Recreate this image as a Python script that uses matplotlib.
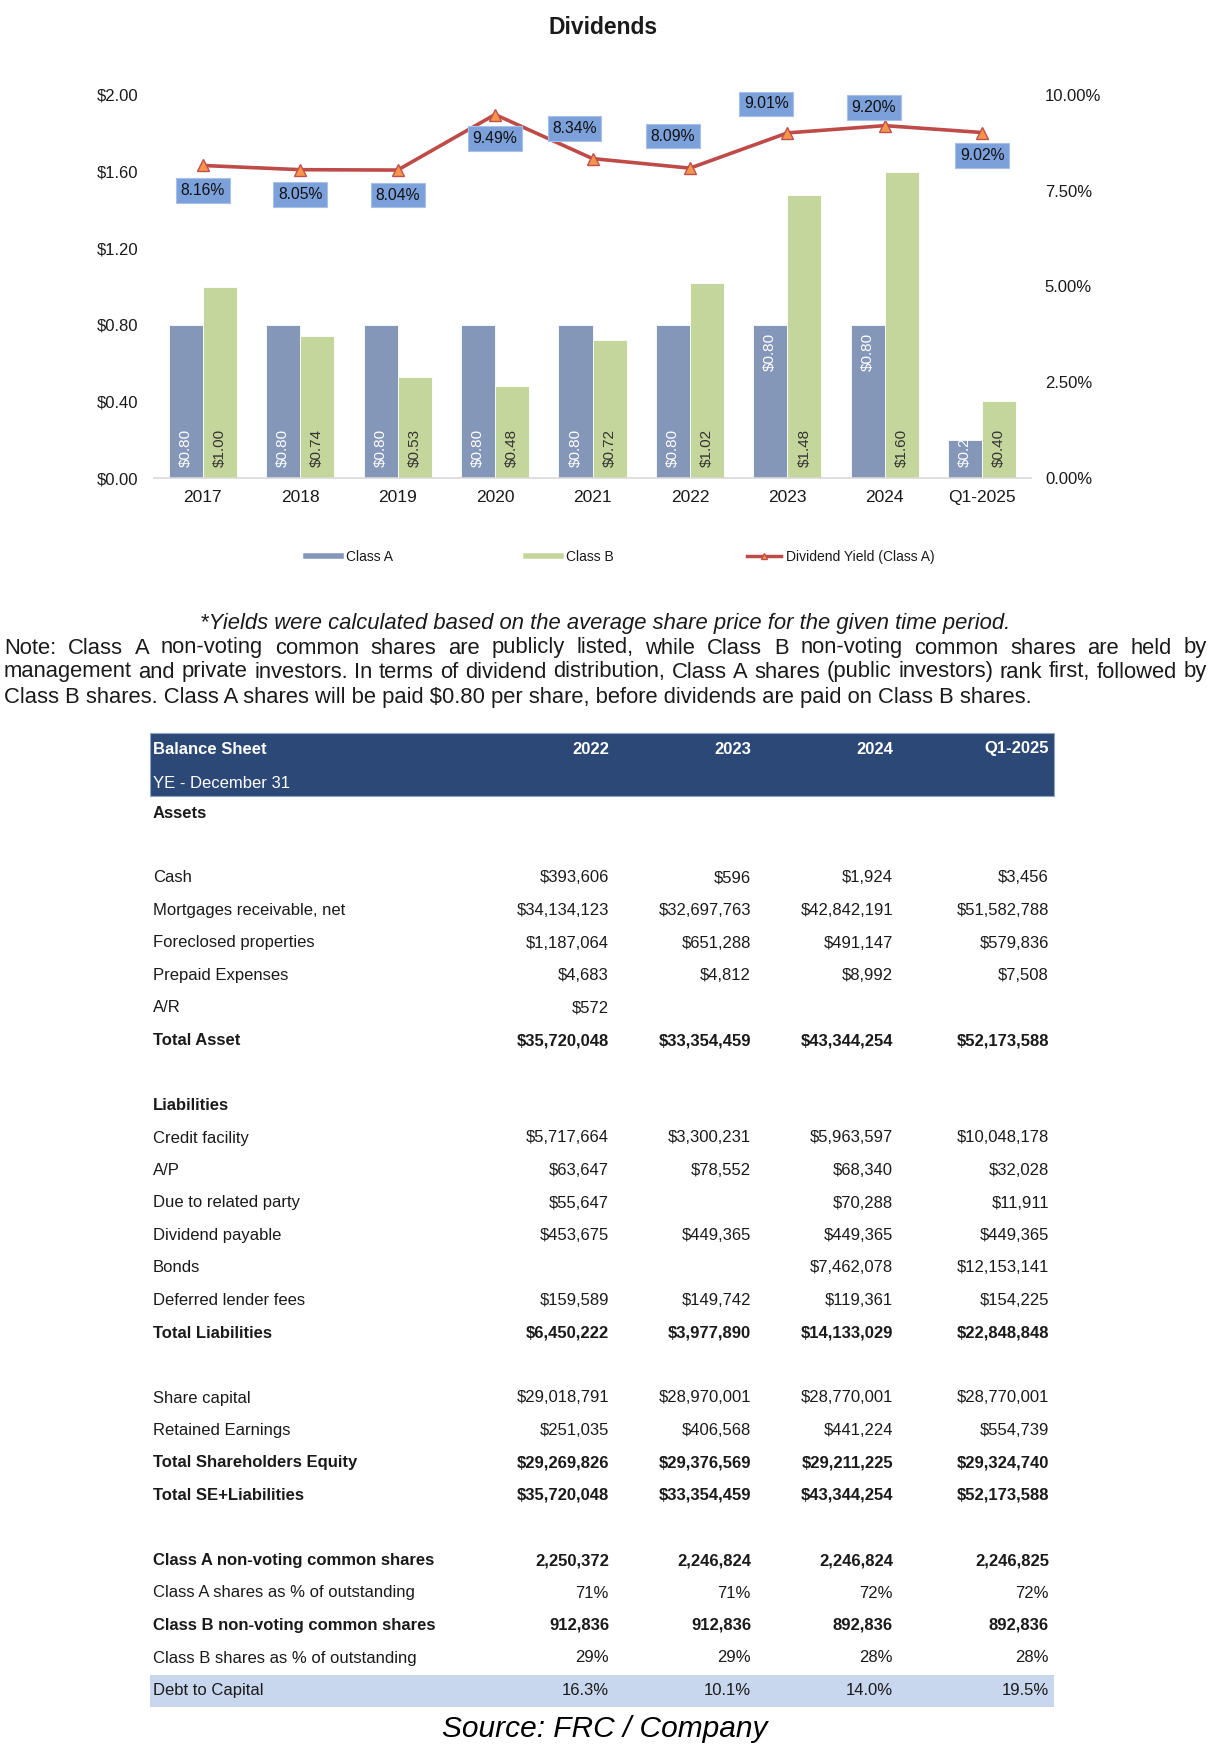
import numpy as np
import matplotlib
matplotlib.use("Agg")
from matplotlib import pyplot as plt
from matplotlib.lines import Line2D
from matplotlib.patches import Rectangle

plt.rcParams["font.family"] = ["Liberation Sans", "DejaVu Sans"]
NARROW = ["Liberation Sans Narrow", "Liberation Sans", "DejaVu Sans"]

# ---- chart data ----
periods = ["2017", "2018", "2019", "2020", "2021", "2022", "2023", "2024", "Q1-2025"]
class_a = [0.80, 0.80, 0.80, 0.80, 0.80, 0.80, 0.80, 0.80, 0.20]
class_b = [1.00, 0.74, 0.53, 0.48, 0.72, 1.02, 1.48, 1.60, 0.40]
yield_a = [8.16, 8.05, 8.04, 9.49, 8.34, 8.09, 9.01, 9.20, 9.02]
dollar_ticks = [0.0, 0.4, 0.8, 1.2, 1.6, 2.0]
pct_ticks = [0.0, 2.5, 5.0, 7.5, 10.0]

# ---- table data ----
table_cols = ["2022", "2023", "2024", "Q1-2025"]
row_labels = [
    "Assets", "", "Cash", "Mortgages receivable, net", "Foreclosed properties",
    "Prepaid Expenses", "A/R", "Total Asset", "", "Liabilities", "Credit facility",
    "A/P", "Due to related party", "Dividend payable", "Bonds", "Deferred lender fees",
    "Total Liabilities", "", "Share capital", "Retained Earnings",
    "Total Shareholders Equity", "Total SE+Liabilities", "",
    "Class A non-voting common shares", "Class A shares as % of outstanding",
    "Class B non-voting common shares", "Class B shares as % of outstanding",
    "Debt to Capital",
]
vals_2022 = ["", "", "$393,606", "$34,134,123", "$1,187,064", "$4,683", "$572", "$35,720,048",
             "", "", "$5,717,664", "$63,647", "$55,647", "$453,675", "", "$159,589", "$6,450,222",
             "", "$29,018,791", "$251,035", "$29,269,826", "$35,720,048", "",
             "2,250,372", "71%", "912,836", "29%", "16.3%"]
vals_2023 = ["", "", "$596", "$32,697,763", "$651,288", "$4,812", "", "$33,354,459",
             "", "", "$3,300,231", "$78,552", "", "$449,365", "", "$149,742", "$3,977,890",
             "", "$28,970,001", "$406,568", "$29,376,569", "$33,354,459", "",
             "2,246,824", "71%", "912,836", "29%", "10.1%"]
vals_2024 = ["", "", "$1,924", "$42,842,191", "$491,147", "$8,992", "", "$43,344,254",
             "", "", "$5,963,597", "$68,340", "$70,288", "$449,365", "$7,462,078", "$119,361",
             "$14,133,029", "", "$28,770,001", "$441,224", "$29,211,225", "$43,344,254", "",
             "2,246,824", "72%", "892,836", "28%", "14.0%"]
vals_q1_2025 = ["", "", "$3,456", "$51,582,788", "$579,836", "$7,508", "", "$52,173,588",
                "", "", "$10,048,178", "$32,028", "$11,911", "$449,365", "$12,153,141", "$154,225",
                "$22,848,848", "", "$28,770,001", "$554,739", "$29,324,740", "$52,173,588", "",
                "2,246,825", "72%", "892,836", "28%", "19.5%"]
bold_rows = {"Assets", "Total Asset", "Liabilities", "Total Liabilities",
             "Total Shareholders Equity", "Total SE+Liabilities",
             "Class A non-voting common shares", "Class B non-voting common shares"}

footnote = "*Yields were calculated based on the average share price for the given time period."
note_lines = [
    "Note: Class A non-voting common shares are publicly listed, while Class B non-voting common shares are held by",
    "management and private investors. In terms of dividend distribution, Class A shares (public investors) rank first, followed by",
    "Class B shares. Class A shares will be paid $0.80 per share, before dividends are paid on Class B shares.",
]

# ---- styling / layout ----
CLR_A = "#8497B8"
CLR_B = "#C4D69B"
CLR_LINE = "#BE4B48"
CLR_MARK = "#F5964A"
CLR_LBL = "#7BA0DA"
CLR_HDR = "#2C4877"
CLR_BAND = "#C9D7EE"
TXT = "#1A1A1A"
a_label_top = [False, False, False, False, False, False, True, True, False]
yield_offsets = [(0, -25), (0, -25), (0, -25), (0, -24), (-18, 30),
                 (-17, 32), (-21, 29), (-11, 18), (0, -23)]

W, H = 1210, 1750
fig = plt.figure(figsize=(W / 100, H / 100), dpi=100)
fig.patch.set_facecolor("white")


def px_box(l, t, r, b):
    return [l / W, 1 - b / H, (r - l) / W, (b - t) / H]


# ---- dividends chart ----
ax = fig.add_axes(px_box(154, 95, 1031, 478))
x = np.arange(len(periods))
bw = 0.35
bars_a = ax.bar(x - bw / 2, class_a, bw, color=CLR_A, edgecolor="white", linewidth=0.6, zorder=2)
bars_b = ax.bar(x + bw / 2, class_b, bw, color=CLR_B, edgecolor="white", linewidth=0.6, zorder=2)
ax.set_xlim(-0.5, len(periods) - 0.5)
ax.set_ylim(0, 2.0)
ax.set_xticks(x)
ax.set_xticklabels(periods)
ax.set_yticks(dollar_ticks)
ax.set_yticklabels([f"${v:.2f}" for v in dollar_ticks])
ax.tick_params(axis="y", length=0, labelsize=12, pad=11, colors=TXT)
ax.tick_params(axis="x", length=0, labelsize=12.5, pad=8.5, colors=TXT)
for s in ["left", "right", "top"]:
    ax.spines[s].set_visible(False)
ax.spines["bottom"].set_color("#D9D9D9")
ax.spines["bottom"].set_linewidth(1.2)

for rect, v, top in zip(bars_a, class_a, a_label_top):
    xc = rect.get_x() + rect.get_width() / 2
    if top:
        t = ax.annotate(f"${v:.2f}", (xc, v), xytext=(0, -8), textcoords="offset pixels",
                        rotation=90, ha="center", va="top", fontsize=11, color="white", zorder=4)
    else:
        t = ax.annotate(f"${v:.2f}", (xc, 0), xytext=(0, 11), textcoords="offset pixels",
                        rotation=90, ha="center", va="bottom", fontsize=11, color="white", zorder=4)
    t.set_clip_path(rect)

for rect, v in zip(bars_b, class_b):
    xc = rect.get_x() + rect.get_width() / 2
    t = ax.annotate(f"${v:.2f}", (xc, 0), xytext=(0, 11), textcoords="offset pixels",
                    rotation=90, ha="center", va="bottom", fontsize=11, color="#333333", zorder=4)
    t.set_clip_path(rect)

ax2 = ax.twinx()
ax2.set_ylim(0, 10)
ax2.set_yticks(pct_ticks)
ax2.set_yticklabels([f"{v:.2f}%" for v in pct_ticks])
ax2.tick_params(axis="y", length=0, labelsize=12, pad=10, colors=TXT)
for s in ax2.spines.values():
    s.set_visible(False)
ax2.plot(x, yield_a, color=CLR_LINE, lw=2.6, marker="^", ms=9, mfc=CLR_MARK,
         mec="#C0504D", mew=1, zorder=3)
for xi, yv, (dx, dy) in zip(x, yield_a, yield_offsets):
    ax2.annotate(f"{yv:.2f}%", (xi, yv), xytext=(dx, dy), textcoords="offset pixels",
                 ha="center", va="center", fontsize=11.3, color="#111111",
                 bbox=dict(boxstyle="square,pad=0.3", fc=CLR_LBL, ec="#A9C0E8", lw=0.8))

handles = [Line2D([], [], color=CLR_A, lw=4),
           Line2D([], [], color=CLR_B, lw=4),
           Line2D([], [], color=CLR_LINE, lw=2.5, marker="^", ms=5, mfc=CLR_MARK, mec="#C0504D")]
fig.legend(handles, ["Class A", "Class B", "Dividend Yield (Class A)"],
           loc="center left", bbox_to_anchor=(306 / W, 1 - 557 / H), ncol=3, frameon=False,
           fontsize=10, handlelength=2.5, handletextpad=0.35, columnspacing=9.6,
           borderpad=0, borderaxespad=0, labelcolor=TXT)

# ---- text + table overlay in pixel coordinates ----
ov = fig.add_axes([0, 0, 1, 1])
ov.set_xlim(0, W)
ov.set_ylim(H, 0)
ov.axis("off")

ov.text(603, 27, "Dividends", ha="center", va="center", fontsize=16.5,
        fontweight="bold", color=TXT)

renderer = fig.canvas.get_renderer()
probe = ov.text(0, 0, note_lines[1], fontsize=10, family=NARROW)
note_size = 10 * 1203 / probe.get_window_extent(renderer).width
probe.remove()

ov.text(605, 623, footnote, ha="center", va="center", fontsize=note_size,
        fontstyle="italic", color=TXT, family=NARROW)


def justify(line, y, x0, x1, size):
    words = line.split(" ")
    texts = [ov.text(0, y, w, fontsize=size, va="center", ha="left", color=TXT, family=NARROW)
             for w in words]
    widths = [t.get_window_extent(renderer).width for t in texts]
    gap = (x1 - x0 - sum(widths)) / (len(words) - 1)
    pos = x0
    for t, w in zip(texts, widths):
        t.set_x(pos)
        pos += w + gap


justify(note_lines[0], 648, 4, 1207, note_size)
justify(note_lines[1], 672, 4, 1207, note_size)
ov.text(4, 697, note_lines[2], fontsize=note_size, va="center", ha="left", color=TXT,
        family=NARROW)

col_right = [609, 751, 893, 1049]
tab_left, tab_right = 150, 1054
ov.add_patch(Rectangle((tab_left, 733), tab_right - tab_left, 63, fc=CLR_HDR,
                       ec="#8EA4C8", lw=0.8))
ov.text(153, 749, "Balance Sheet", color="white", fontweight="bold", fontsize=12, va="center")
for xr, c in zip(col_right, table_cols):
    ov.text(xr, 749, c, color="white", fontweight="bold", fontsize=12, va="center", ha="right")
ov.text(153, 784, "YE - December 31", color="white", fontsize=12, va="center")

row_y0, row_h = 813, 32.5
for k, label in enumerate(row_labels):
    y = row_y0 + row_h * k
    weight = "bold" if label in bold_rows else "normal"
    if label == "Debt to Capital":
        ov.add_patch(Rectangle((tab_left, y - 15.5), tab_right - tab_left, 32, fc=CLR_BAND, lw=0))
    ov.text(153, y, label, fontsize=12, fontweight=weight, va="center", color=TXT)
    for xr, col in zip(col_right, [vals_2022, vals_2023, vals_2024, vals_q1_2025]):
        ov.text(xr, y, col[k], fontsize=12, fontweight=weight, va="center", ha="right", color=TXT)

ov.text(605, 1729, "Source: FRC / Company", ha="center", va="center", fontsize=21.5,
        fontstyle="italic", color="black")

fig.savefig("out.png", dpi=100, facecolor="white")
